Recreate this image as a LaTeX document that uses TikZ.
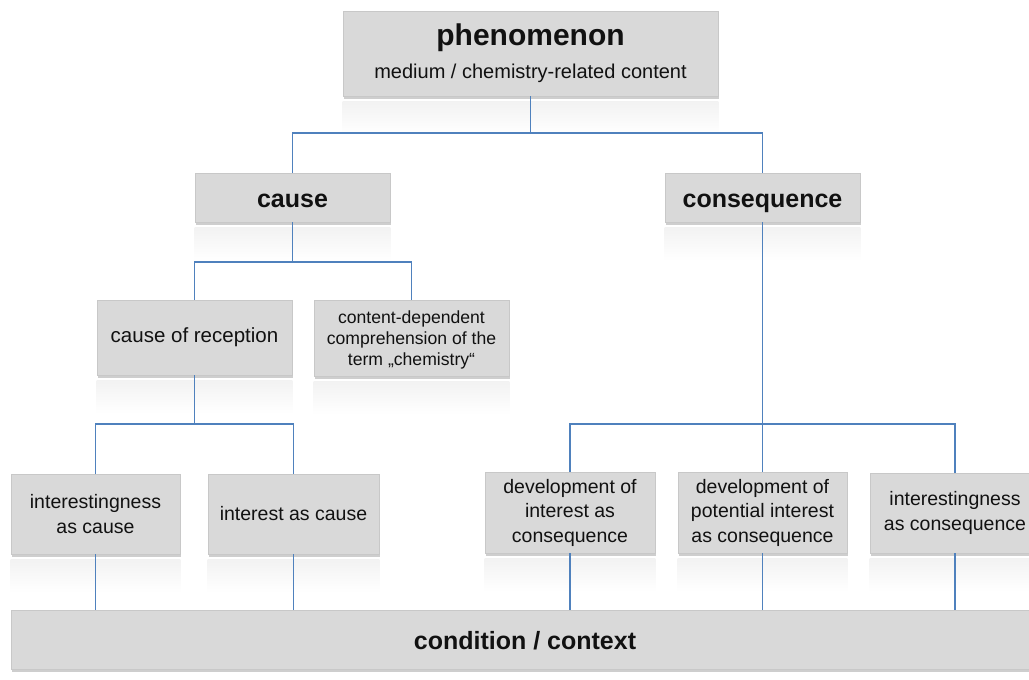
\documentclass[tikz,border=0pt]{standalone}
\usepackage{fontspec}
\setmainfont{Liberation Sans}
\usetikzlibrary{shadows}
\definecolor{boxfill}{HTML}{D9D9D9}
\definecolor{boxedge}{HTML}{C8C8C8}
\definecolor{conn}{HTML}{4F81BD}
\definecolor{txt}{HTML}{111111}
\tikzset{
  box/.style={draw=boxedge, line width=0.6pt, fill=boxfill, inner sep=2pt, align=center, text=txt,
    drop shadow={shadow xshift=1pt, shadow yshift=-2.5pt, opacity=0.35, fill=black!55}},
  lvlfont/.style={font=\fontsize{25}{30}\selectfont\bfseries, text height=19pt, text depth=0pt},
  regfont/.style={font=\fontsize{19.5}{24.5}\selectfont},
  smallfont/.style={font=\fontsize{17.6}{21}\selectfont},
  link/.style={draw=conn, line width=1.3pt},
  refl/.style={top color=black!5, bottom color=white, draw=none}
}
\newcommand{\reflect}[1]{\shade[refl] ([yshift=-5pt]#1.south west) rectangle ([yshift=-38pt]#1.south east);}
\begin{document}
\begin{tikzpicture}[x=1pt,y=-1pt]
\useasboundingbox (0,0) rectangle (1029,680);
\fill[white] (0,0) rectangle (1029,680);
\clip (0,0) rectangle (1029,680);

% boxes
\node[box, minimum width=375pt, minimum height=85pt] (phen) at (530.5,53.5) {};
\node[text=txt, font=\fontsize{30}{36}\selectfont\bfseries] (ptitle) at (530.5,38) {phenomenon};
\node[text=txt, font=\fontsize{20}{24}\selectfont] (psub) at (530.5,73) {medium / chemistry-related content};

\node[box, lvlfont, minimum width=195pt, minimum height=49pt] (cause) at (292.5,197.5) {cause};
\node[box, lvlfont, minimum width=195pt, minimum height=49pt] (conseq) at (762.5,197.5) {consequence};

\node[box, font=\fontsize{20.5}{25}\selectfont, minimum width=195pt, minimum height=75pt] (cor) at (194.5,337.5) {cause of reception};
\node[box, smallfont, minimum width=195pt, minimum height=76pt] (cdc) at (411.5,338) {};
\node[text=txt, smallfont, align=center] (cdct) at (411.5,340) {content-dependent\\comprehension of the\\term \char"201E chemistry\char"201C};

\node[box, regfont, minimum width=169pt, minimum height=80pt] (ic) at (95.5,514) {interestingness\\as cause};
\node[box, regfont, minimum width=171pt, minimum height=80pt] (iac) at (293.5,514) {interest as cause};
\node[box, regfont, minimum width=170pt, minimum height=81pt] (dic) at (570,512.5) {development of\\interest as\\consequence};
\node[box, regfont, minimum width=169pt, minimum height=81pt] (dpi) at (762.5,512.5) {development of\\potential interest\\as consequence};
\node[box, regfont, minimum width=170pt, minimum height=80pt] (icq) at (955,513) {interestingness\\as consequence};

\node[box, lvlfont, minimum width=1028pt, minimum height=59pt] (cond) at (525,639.5) {condition / context};

% reflections
\reflect{phen}
\reflect{cause}
\reflect{conseq}
\reflect{cor}
\reflect{cdc}
\reflect{ic}
\reflect{iac}
\reflect{dic}
\reflect{dpi}
\reflect{icq}

% connectors
\coordinate (j1) at (530.5,133);
\coordinate (j2) at (292.5,262);
\coordinate (j3) at (194.5,424);
\coordinate (j4) at (762.5,424);
\draw[link] (phen.south) -- (j1) -| (cause.north);
\draw[link] (j1) -| (conseq.north);
\draw[link] (cause.south) -- (j2) -| (cor.north);
\draw[link] (j2) -| (cdc.north);
\draw[link] (cor.south) -- (j3) -| (ic.north);
\draw[link] (j3) -| (iac.north);
\draw[link] (conseq.south) -- (j4) -| (dic.north);
\draw[link] (j4) -- (dpi.north);
\draw[link] (j4) -| (icq.north);
\draw[link] (ic.south) -- (ic.south |- cond.north);
\draw[link] (iac.south) -- (iac.south |- cond.north);
\draw[link] (dic.south) -- (dic.south |- cond.north);
\draw[link] (dpi.south) -- (dpi.south |- cond.north);
\draw[link] (icq.south) -- (icq.south |- cond.north);
\end{tikzpicture}
\end{document}
